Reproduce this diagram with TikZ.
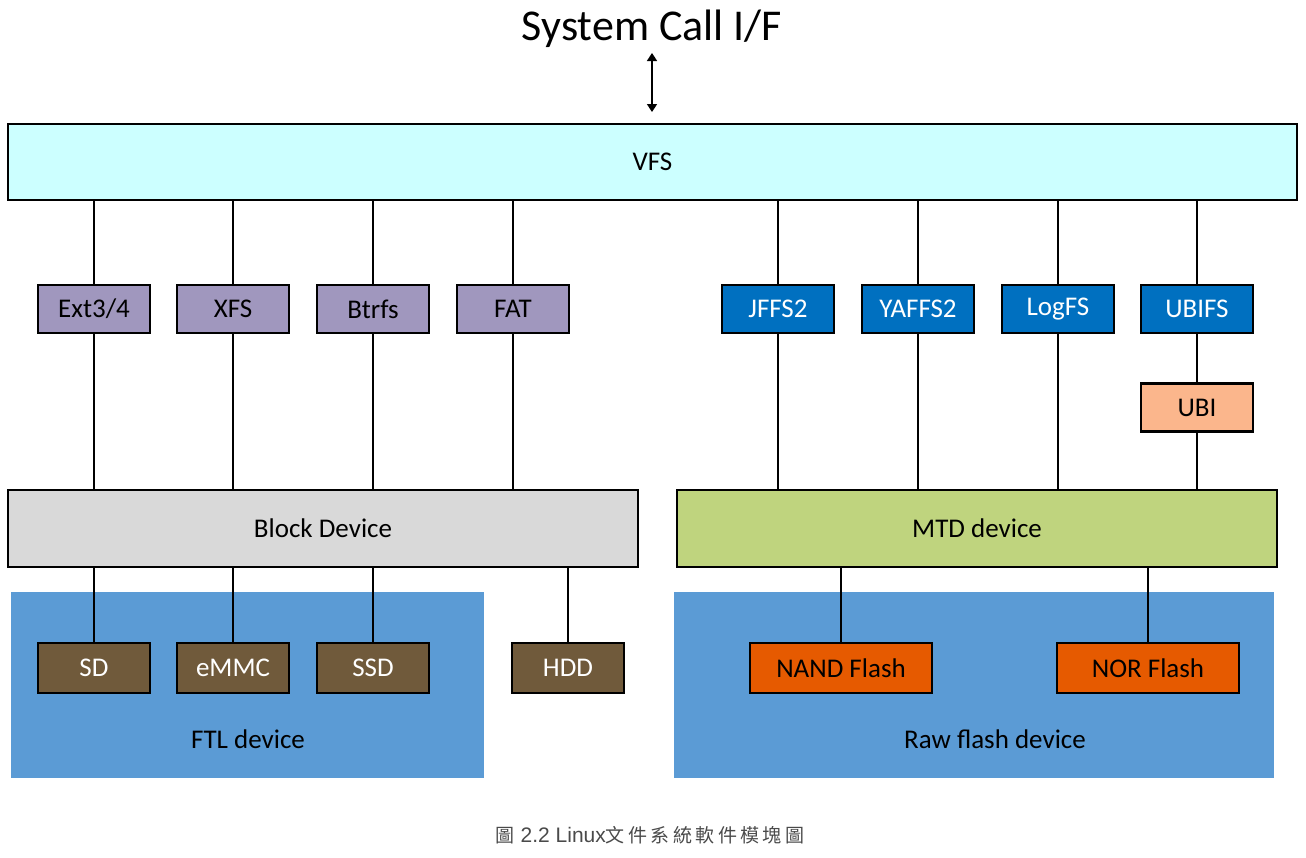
\documentclass[tikz,border=0pt]{standalone}
\usepackage{fontspec}
\setmainfont{Carlito}
\newfontfamily\cjk[LetterSpace=18]{Noto Sans CJK TC}
\newfontfamily\capfont{Liberation Sans}
\usetikzlibrary{arrows.meta}
\definecolor{vfsfill}{HTML}{CCFFFF}
\definecolor{blkfs}{HTML}{A097BE}
\definecolor{flashfs}{HTML}{0070C0}
\definecolor{ubifill}{HTML}{FBB68C}
\definecolor{blkdev}{HTML}{D9D9D9}
\definecolor{mtddev}{HTML}{BFD47E}
\definecolor{region}{HTML}{5B9BD5}
\definecolor{hw}{HTML}{705A3B}
\definecolor{flashhw}{HTML}{E65A00}
\definecolor{captiongray}{HTML}{4A4A4A}
\tikzset{
  lbl/.style={font=\fontsize{27}{30}\selectfont},
  box/.style={draw=black, line width=2.8pt, inner sep=0pt, lbl},
  fsbox/.style={box, minimum width=112pt, minimum height=48pt},
  wire/.style={line width=2.5pt, draw=black},
}
\begin{document}
\begin{tikzpicture}[x=1pt,y=-1pt]
\useasboundingbox (0,0) rectangle (1306,857);
\node (title) at (652,29) {\fontsize{44}{48}\selectfont System Call I/F};
% regions
\fill[region] (11,592) rectangle (484,778);
\fill[region] (674,592) rectangle (1274,778);
\node[lbl] (ftl) at (248,739) {FTL device};
\node[lbl] (raw) at (995,739) {Raw flash device};
% VFS
\node[box, fill=vfsfill, minimum width=1289pt, minimum height=76pt] (vfs) at (652.5,162) {VFS};
\coordinate (arrtop) at (652,53);
\coordinate (arrbot) at (652,112);
\draw[line width=1.6pt, {Triangle[width=10pt,length=8pt]}-{Triangle[width=10pt,length=8pt]}] (arrtop) -- (arrbot);
% file systems
\node[fsbox, fill=blkfs] (ext) at (94,309) {Ext3/4};
\node[fsbox, fill=blkfs] (xfs) at (233,309) {XFS};
\node[fsbox, fill=blkfs] (btrfs) at (373,309) {Btrfs};
\node[fsbox, fill=blkfs] (fat) at (513,309) {FAT};
\node[fsbox, fill=flashfs, text=white] (jffs) at (778,309) {JFFS2};
\node[fsbox, fill=flashfs, text=white] (yaffs) at (918,309) {YAFFS2};
\node[fsbox, fill=flashfs, text=white] (logfs) at (1058,309) {LogFS};
\node[fsbox, fill=flashfs, text=white] (ubifs) at (1197,309) {UBIFS};
\node[fsbox, fill=ubifill] (ubi) at (1197,407.5) {UBI};
% devices
\node[box, fill=blkdev, minimum width=630pt, minimum height=77pt] (blk) at (323,528.5) {Block Device};
\node[box, fill=mtddev, minimum width=600pt, minimum height=77pt] (mtd) at (977,528.5) {MTD device};
% hardware
\node[fsbox, fill=hw, text=white, minimum height=50pt] (sd) at (94,668) {SD};
\node[fsbox, fill=hw, text=white, minimum height=50pt] (emmc) at (233,668) {eMMC};
\node[fsbox, fill=hw, text=white, minimum height=50pt] (ssd) at (373,668) {SSD};
\node[fsbox, fill=hw, text=white, minimum height=50pt] (hdd) at (568,668) {HDD};
\node[box, fill=flashhw, minimum width=182pt, minimum height=50pt] (nand) at (841,668) {NAND Flash};
\node[box, fill=flashhw, minimum width=182pt, minimum height=50pt] (nor) at (1148,668) {NOR Flash};
% connectors
\foreach \n in {ext,xfs,btrfs,fat} {
  \draw[wire] (vfs.south -| \n.north) -- (\n.north);
  \draw[wire] (\n.south) -- (blk.north -| \n.south);
}
\foreach \n in {jffs,yaffs,logfs,ubifs} {
  \draw[wire] (vfs.south -| \n.north) -- (\n.north);
}
\foreach \n in {jffs,yaffs,logfs} {
  \draw[wire] (\n.south) -- (mtd.north -| \n.south);
}
\draw[wire] (ubifs.south) -- (ubi.north);
\draw[wire] (ubi.south) -- (mtd.north -| ubi.south);
\foreach \n in {sd,emmc,ssd,hdd} {
  \draw[wire] (blk.south -| \n.north) -- (\n.north);
}
\foreach \n in {nand,nor} {
  \draw[wire] (mtd.south -| \n.north) -- (\n.north);
}
\node[text=captiongray, inner sep=0pt] (cap) at (650,835) {\fontsize{19}{22}\selectfont{\cjk 圖}\hspace{6pt}{\capfont\fontsize{21}{22}\selectfont 2.2 Linux}{\cjk 文件系統軟件模塊圖}};
\end{tikzpicture}
\end{document}
